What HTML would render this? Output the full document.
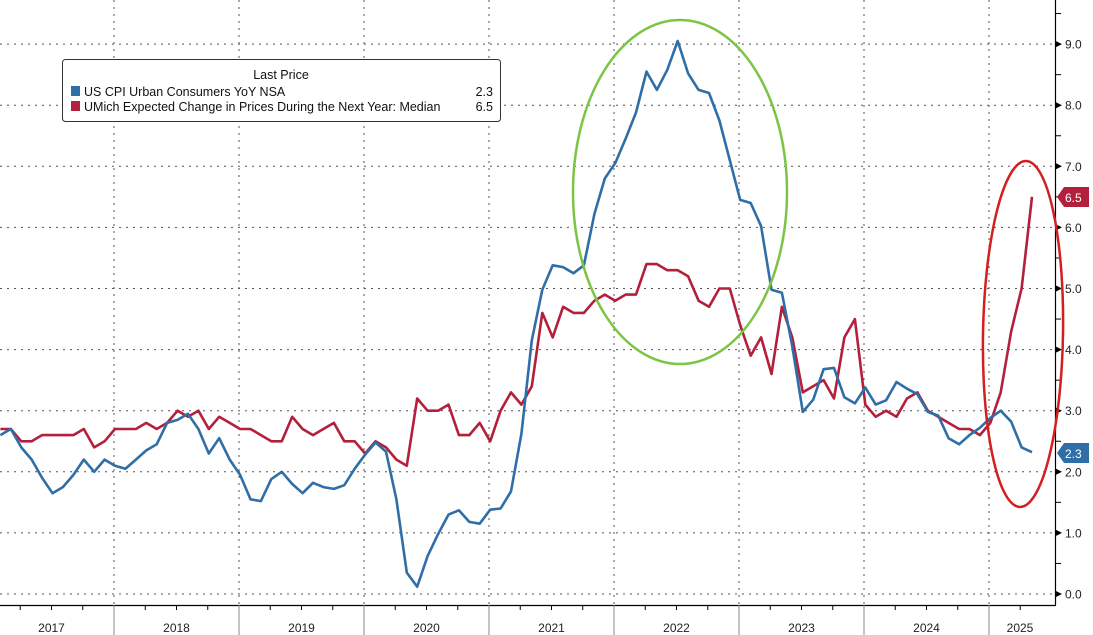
<!DOCTYPE html>
<html><head><meta charset="utf-8"><style>
html,body{margin:0;padding:0;background:#fff;}
svg{display:block;font-family:"Liberation Sans",sans-serif;}
</style></head><body>
<svg id="c" width="1093" height="635" viewBox="0 0 1093 635" xmlns="http://www.w3.org/2000/svg">
<rect width="1093" height="635" fill="#fff"/>
<g id="grid" stroke="#555" stroke-width="1" stroke-dasharray="2,5"></g>
<g id="axis"></g>
<polyline id="umich" fill="none" stroke="#b3203c" stroke-width="2.6" stroke-linejoin="round"/>
<polyline id="cpi" fill="none" stroke="#2f6ea6" stroke-width="2.6" stroke-linejoin="round"/>
<ellipse cx="680" cy="192" rx="107" ry="172" fill="none" stroke="#7cc444" stroke-width="2.5"/>
<ellipse cx="1023" cy="334" rx="40" ry="173" fill="none" stroke="#d21f1f" stroke-width="2.5" transform="rotate(1 1023 334)"/>
<rect x="62.5" y="59.5" width="438" height="62" rx="3" fill="#fff" stroke="#333"/>
<text x="281" y="79" font-size="12.5" text-anchor="middle" fill="#111">Last Price</text>
<rect x="71" y="86" width="9" height="10" fill="#2f6ea6"/>
<text x="84" y="96" font-size="12.5" fill="#111">US CPI Urban Consumers YoY NSA</text>
<text x="493" y="96" font-size="12.5" text-anchor="end" fill="#111">2.3</text>
<rect x="71" y="101" width="9" height="10" fill="#b3203c"/>
<text x="84" y="111" font-size="12.5" fill="#111">UMich Expected Change in Prices During the Next Year: Median</text>
<text x="493" y="111" font-size="12.5" text-anchor="end" fill="#111">6.5</text>
<polygon points="1057,197 1064,187 1089,187 1089,207 1064,207" fill="#b3203c"/>
<text x="1065" y="202" font-size="12" fill="#fff">6.5</text>
<polygon points="1057,453 1064,443 1089,443 1089,463 1064,463" fill="#2f6ea6"/>
<text x="1065" y="458" font-size="12" fill="#fff">2.3</text>
</svg>
<script>
const ns="http://www.w3.org/2000/svg";
const Y=v=>594-61.1*v;
const g=document.getElementById('grid'),ax=document.getElementById('axis');
function el(p,t,a,txt){const e=document.createElementNS(ns,t);for(const k in a)e.setAttribute(k,a[k]);if(txt!=null)e.textContent=txt;p.appendChild(e);return e;}
for(let v=0;v<=9;v++){el(g,'line',{x1:0,x2:1055,y1:Y(v),y2:Y(v)});}
const yb=[];for(let y=0;y<=9;y++)yb.push(-11+125*y);
for(let i=1;i<=8;i++){el(g,'line',{x1:yb[i],x2:yb[i],y1:0,y2:605});}
el(ax,'line',{x1:1055.5,x2:1055.5,y1:0,y2:605,stroke:'#000','stroke-width':1.2});
el(ax,'line',{x1:0,x2:1056,y1:605.5,y2:605.5,stroke:'#000','stroke-width':1.2});
for(let v=0;v<=9.5;v+=0.5){const y=Y(v);
 if(Number.isInteger(v)){el(ax,'polygon',{points:`1056,${y-3} 1062,${y} 1056,${y+3}`,fill:'#000'});
  el(ax,'text',{x:1065,y:y+4.5,'font-size':12,fill:'#222'},v.toFixed(1));}
 else el(ax,'line',{x1:1055,x2:1061,y1:y,y2:y,stroke:'#000'});}
for(let m=0;m<=100;m++){const x=-11+m*125/12;if(x<0||x>1055)continue;
 if(m%12==0)el(ax,'line',{x1:x,x2:x,y1:605,y2:635,stroke:'#888'});
 else if(m%3==0)el(ax,'line',{x1:x,x2:x,y1:605,y2:610,stroke:'#000'});}
for(let i=0;i<9;i++){let c=yb[i]+62.5;if(i==8)c=1020;el(ax,'text',{x:c,y:632,'font-size':12,'text-anchor':'middle',fill:'#222'},String(2017+i));}
const cpi=[2.6,2.7,2.4,2.2,1.9,1.65,1.75,1.95,2.2,2.0,2.2,2.1,2.05,2.2,2.35,2.45,2.8,2.85,2.95,2.7,2.3,2.55,2.2,1.95,1.55,1.52,1.88,2.0,1.8,1.65,1.82,1.75,1.72,1.78,2.05,2.28,2.48,2.33,1.55,0.35,0.12,0.62,0.98,1.3,1.37,1.18,1.15,1.38,1.4,1.68,2.62,4.15,4.98,5.38,5.35,5.25,5.38,6.22,6.8,7.05,7.45,7.88,8.55,8.25,8.58,9.05,8.52,8.25,8.2,7.75,7.1,6.45,6.4,6.02,4.98,4.93,4.05,2.98,3.18,3.68,3.7,3.22,3.12,3.38,3.1,3.17,3.47,3.36,3.27,2.98,2.92,2.55,2.45,2.6,2.72,2.88,3.0,2.82,2.4,2.32];
const um=[2.7,2.7,2.5,2.5,2.6,2.6,2.6,2.6,2.7,2.4,2.5,2.7,2.7,2.7,2.8,2.7,2.8,3.0,2.9,3.0,2.7,2.9,2.8,2.7,2.7,2.6,2.5,2.5,2.9,2.7,2.6,2.7,2.8,2.5,2.5,2.3,2.5,2.4,2.2,2.1,3.2,3.0,3.0,3.1,2.6,2.6,2.8,2.5,3.0,3.3,3.1,3.4,4.6,4.2,4.7,4.6,4.6,4.8,4.9,4.8,4.9,4.9,5.4,5.4,5.3,5.3,5.2,4.8,4.7,5.0,5.0,4.4,3.9,4.2,3.6,4.7,4.2,3.3,3.4,3.5,3.2,4.2,4.5,3.1,2.9,3.0,2.9,3.2,3.3,3.0,2.9,2.8,2.7,2.7,2.6,2.8,3.3,4.3,5.0,6.5];
const X=(i,n)=>1032-(n-1-i)*10.42;
function pts(a){return a.map((v,i)=>X(i,a.length).toFixed(1)+','+Y(v).toFixed(1)).join(' ');}
document.getElementById('cpi').setAttribute('points',pts(cpi));
document.getElementById('umich').setAttribute('points',pts(um));
</script>
</body></html>
